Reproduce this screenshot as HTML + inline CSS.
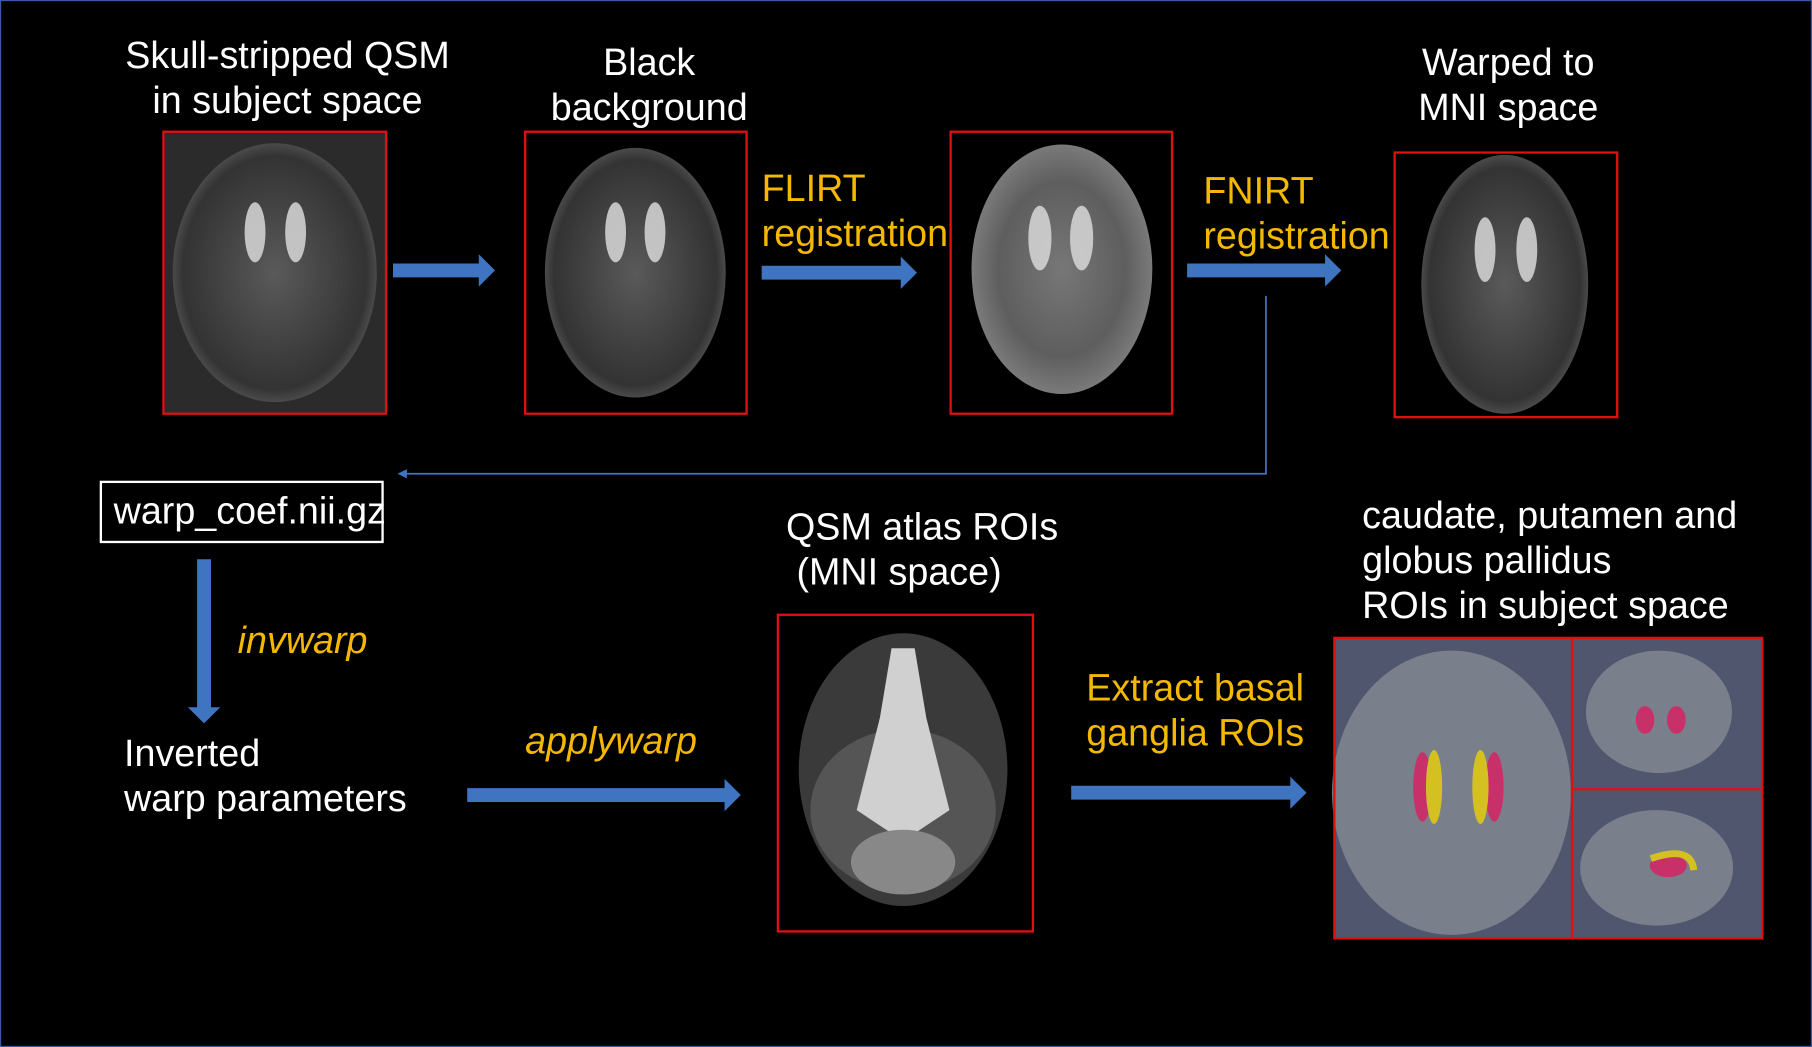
<!DOCTYPE html>
<html><head><meta charset="utf-8"><style>
html,body{margin:0;padding:0;background:#000;overflow:hidden}
#wrap{width:1812px;height:1047px;position:relative;overflow:hidden;background:#000}
#s{position:absolute;left:0;top:0;width:1563px;height:906px;transform:scale(1.1593,1.1556);transform-origin:0 0;border:1.5px solid #3a5aa8;box-sizing:border-box}
.t{position:absolute;color:#fff;font-family:"Liberation Sans",Arial,sans-serif;font-size:32.5px;line-height:39px;white-space:nowrap}
.o{color:#f5b800}
.i{font-style:italic}
.c{text-align:center;transform:translateX(-50%)}
.box{position:absolute;border:2px solid #e01010;box-sizing:border-box;overflow:hidden}
svg{position:absolute;left:0;top:0}
</style></head><body><div id="wrap"><div id="s">
<svg width="1563" height="906">
<defs>
<radialGradient id="br" cx="50%" cy="50%" r="50%"><stop offset="0" stop-color="#5a5a5a"/><stop offset="0.6" stop-color="#404040"/><stop offset="0.9" stop-color="#333"/><stop offset="1" stop-color="#4a4a4a"/></radialGradient>
<radialGradient id="br2" cx="50%" cy="50%" r="50%"><stop offset="0" stop-color="#777"/><stop offset="0.7" stop-color="#5e5e5e"/><stop offset="1" stop-color="#7a7a7a"/></radialGradient>
<marker id="ah" markerWidth="8" markerHeight="8" refX="7" refY="4" orient="auto" markerUnits="userSpaceOnUse"><path d="M0,0 L8,4 L0,8 z" fill="#3f74c0"/></marker>
</defs>
<rect x="141" y="113" width="192" height="244" fill="#2b2b2b"/>
<ellipse cx="236" cy="235" rx="88" ry="112" fill="url(#br)"/>
<ellipse cx="547" cy="235" rx="78" ry="108" fill="url(#br)"/>
<ellipse cx="915" cy="232" rx="78" ry="108" fill="url(#br2)"/>
<ellipse cx="1297" cy="245" rx="72" ry="112" fill="url(#br)"/>
<g fill="#d8d8d8" opacity="0.85">
<ellipse cx="219" cy="200" rx="9" ry="26"/><ellipse cx="254" cy="200" rx="9" ry="26"/>
<ellipse cx="530" cy="200" rx="9" ry="26"/><ellipse cx="564" cy="200" rx="9" ry="26"/>
<ellipse cx="896" cy="205" rx="10" ry="28"/><ellipse cx="932" cy="205" rx="10" ry="28"/>
<ellipse cx="1280" cy="215" rx="9" ry="28"/><ellipse cx="1316" cy="215" rx="9" ry="28"/>
</g>
<ellipse cx="778" cy="665" rx="90" ry="118" fill="#3a3a3a"/>
<ellipse cx="778" cy="700" rx="80" ry="70" fill="#555"/>
<path d="M768,560 L788,560 L798,620 L818,700 L788,720 L768,720 L738,700 L758,620 Z" fill="#d0d0d0"/>
<ellipse cx="778" cy="745" rx="45" ry="28" fill="#888"/>
<rect x="1151" y="551" width="369" height="260" fill="#4f566e"/>
<ellipse cx="1251" cy="685" rx="103" ry="123" fill="#7a7f8c"/>
<ellipse cx="1430" cy="615" rx="63" ry="53" fill="#7a7f8c"/>
<ellipse cx="1428" cy="750" rx="66" ry="50" fill="#7a7f8c"/>
<ellipse cx="1226" cy="680" rx="8" ry="30" fill="#c8306a"/><ellipse cx="1236" cy="680" rx="7" ry="32" fill="#d4c020"/>
<ellipse cx="1288" cy="680" rx="8" ry="30" fill="#c8306a"/><ellipse cx="1276" cy="680" rx="7" ry="32" fill="#d4c020"/>
<ellipse cx="1418" cy="622" rx="8" ry="12" fill="#c8306a"/><ellipse cx="1445" cy="622" rx="8" ry="12" fill="#c8306a"/>
<ellipse cx="1438" cy="748" rx="16" ry="10" fill="#c8306a"/><path d="M1423,742 Q1458,730 1460,752" stroke="#d4c020" stroke-width="6" fill="none"/>
<line x1="1355" y1="551" x2="1355" y2="811" stroke="#e01010" stroke-width="2"/>
<line x1="1355" y1="682" x2="1520" y2="682" stroke="#e01010" stroke-width="2"/>
<g fill="#3f74c0">
<path d="M338,227 L412,227 L412,219 L426,233 L412,247 L412,239 L338,239 Z"/>
<path d="M656,229 L776,229 L776,221 L790,235 L776,249 L776,241 L656,241 Z"/>
<path d="M1023,227 L1142,227 L1142,219 L1156,233 L1142,247 L1142,239 L1023,239 Z"/>
<path d="M169,483 L181,483 L181,611 L189,611 L175,625 L161,611 L169,611 Z"/>
<path d="M402,681 L624,681 L624,673 L638,687 L624,701 L624,693 L402,693 Z"/>
<path d="M923,679 L1112,679 L1112,671 L1126,685 L1112,699 L1112,691 L923,691 Z"/>
</g>
<polyline points="1091,255 1091,409 343,409" fill="none" stroke="#3f74c0" stroke-width="1.5" marker-end="url(#ah)"/>
<rect x="86" y="416" width="243" height="52" fill="none" stroke="#fff" stroke-width="2"/>
</svg>
<div class="box" style="left:139px;top:112px;width:194px;height:246px"></div>
<div class="box" style="left:451px;top:112px;width:193px;height:246px"></div>
<div class="box" style="left:818px;top:112px;width:193px;height:246px"></div>
<div class="box" style="left:1201px;top:130px;width:194px;height:231px"></div>
<div class="box" style="left:669px;top:530px;width:222px;height:276px"></div>
<div class="box" style="left:1149px;top:550px;width:371px;height:262px"></div>
<div class="t c" style="left:247px;top:28px">Skull-stripped QSM<br>in subject space</div>
<div class="t c" style="left:559px;top:34px">Black<br>background</div>
<div class="t o" style="left:656px;top:143px">FLIRT<br>registration</div>
<div class="t o" style="left:1037px;top:145px">FNIRT<br>registration</div>
<div class="t c" style="left:1300px;top:34px">Warped to<br>MNI space</div>
<div class="t" style="left:97px;top:422px">warp_coef.nii.gz</div>
<div class="t o i" style="left:204px;top:534px">invwarp</div>
<div class="t" style="left:106px;top:632px">Inverted<br>warp parameters</div>
<div class="t o i" style="left:452px;top:621px">applywarp</div>
<div class="t" style="left:677px;top:436px">QSM atlas ROIs<br>&nbsp;(MNI space)</div>
<div class="t o" style="left:936px;top:575px">Extract basal<br>ganglia ROIs</div>
<div class="t" style="left:1174px;top:426px">caudate, putamen and<br>globus pallidus<br>ROIs in subject space</div>
</div></div></body></html>
